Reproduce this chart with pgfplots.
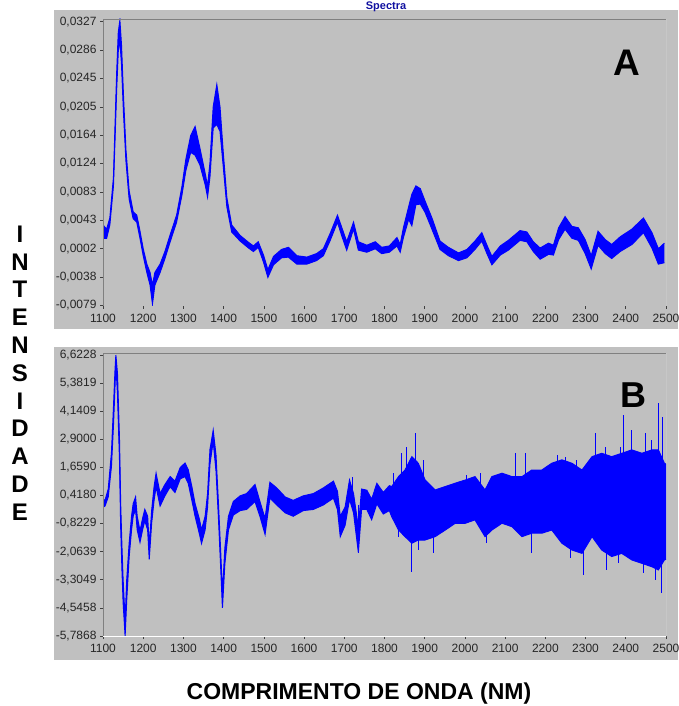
\documentclass[border=0pt]{standalone}
\usepackage{pgfplots}
\pgfplotsset{compat=1.18}
\usepackage{pgfplotstable}
\usepackage{fontspec}
\setmainfont{Liberation Sans}
\definecolor{panelgray}{HTML}{C0C0C0}
\definecolor{specblue}{HTML}{0000FF}
\definecolor{titleblue}{HTML}{1010A0}

\pgfplotstableread{
x lo hi
1100 0.0017 0.0036
1109 0.0017 0.0030
1117 0.0036 0.0046
1126 0.0092 0.0104
1130 0.0160 0.0180
1134 0.0230 0.0254
1138 0.0285 0.0312
1142 0.0300 0.0329
1146 0.0266 0.0294
1151 0.0196 0.0220
1157 0.0128 0.0144
1165 0.0073 0.0085
1175 0.0045 0.0055
1184 0.0040 0.0050
1192 0.0017 0.0027
1200 -0.0008 0.0002
1209 -0.0032 -0.0020
1217 -0.0050 -0.0032
1223 -0.0077 -0.0050
1229 -0.0050 -0.0032
1242 -0.0032 -0.0020
1254 -0.0012 -0.0002
1267 0.0012 0.0022
1283 0.0040 0.0050
1296 0.0078 0.0090
1306 0.0114 0.0130
1318 0.0140 0.0164
1329 0.0136 0.0177
1341 0.0122 0.0146
1354 0.0094 0.0110
1360 0.0076 0.0092
1366 0.0105 0.0125
1374 0.0175 0.0205
1383 0.0180 0.0237
1391 0.0170 0.0205
1399 0.0120 0.0140
1408 0.0062 0.0075
1420 0.0026 0.0036
1441 0.0013 0.0021
1462 0.0003 0.0011
1474 -0.0002 0.0006
1486 0.0004 0.0012
1499 -0.0017 -0.0007
1510 -0.0039 -0.0028
1524 -0.0021 -0.0009
1544 -0.0011 0.0001
1561 -0.0010 0.0004
1582 -0.0020 -0.0008
1607 -0.0020 -0.0010
1631 -0.0015 -0.0005
1648 -0.0008 0.0002
1665 0.0014 0.0024
1683 0.0040 0.0050
1694 0.0020 0.0032
1706 0.0000 0.0012
1723 0.0030 0.0040
1735 0.0000 0.0012
1756 -0.0003 0.0007
1777 0.0002 0.0012
1793 -0.0005 0.0004
1812 -0.0003 0.0006
1831 0.0006 0.0018
1839 -0.0003 0.0008
1847 0.0018 0.0032
1860 0.0044 0.0062
1868 0.0035 0.0080
1878 0.0065 0.0092
1889 0.0066 0.0088
1901 0.0054 0.0070
1918 0.0030 0.0046
1938 0.0001 0.0013
1959 -0.0008 0.0004
1984 -0.0015 -0.0004
2005 -0.0011 0.0001
2025 0.0001 0.0013
2042 0.0013 0.0025
2054 -0.0004 0.0008
2067 -0.0021 -0.0009
2088 -0.0007 0.0006
2108 0.0000 0.0014
2137 0.0014 0.0028
2154 0.0012 0.0026
2170 -0.0002 0.0012
2187 -0.0013 0.0003
2208 -0.0006 0.0010
2220 -0.0007 0.0007
2233 0.0015 0.0032
2249 0.0030 0.0048
2266 0.0017 0.0034
2282 0.0014 0.0032
2299 -0.0005 0.0015
2314 -0.0027 -0.0008
2331 0.0007 0.0027
2349 -0.0005 0.0015
2365 -0.0012 0.0008
2386 -0.0002 0.0019
2415 0.0008 0.0030
2444 0.0025 0.0046
2465 0.0003 0.0025
2481 -0.0020 0.0002
2496 -0.0018 0.0010
}\dataA

\pgfplotstableread{
x lo hi
1100 -0.10 0.25
1105 -0.05 0.20
1113 0.35 0.70
1121 1.70 2.30
1126 3.50 4.30
1130 5.30 6.00
1132 6.20 6.62
1136 4.90 5.80
1141 2.00 2.90
1144 -1.00 0.00
1147 -2.80 -1.80
1150 -4.30 -3.30
1155 -5.79 -5.10
1159 -4.20 -3.30
1165 -2.30 -1.70
1171 -1.10 -0.50
1175 -0.50 0.05
1181 -0.20 0.35
1185 -1.10 -0.50
1192 -1.65 -1.15
1199 -1.05 -0.55
1204 -0.70 -0.20
1211 -1.10 -0.50
1215 -2.40 -1.80
1221 -0.80 -0.25
1227 0.20 0.80
1232 0.80 1.40
1242 -0.05 0.50
1254 0.40 0.90
1267 0.80 1.25
1279 0.55 1.05
1292 1.15 1.65
1304 1.25 1.85
1312 0.95 1.55
1321 0.20 0.80
1329 -0.50 0.05
1340 -1.30 -0.65
1345 -1.70 -1.10
1354 -1.10 -0.50
1360 -0.10 0.50
1366 1.80 2.45
1374 2.80 3.30
1381 1.50 2.20
1387 -0.55 0.10
1393 -2.90 -2.20
1397 -4.55 -3.90
1403 -2.60 -1.90
1412 -1.10 -0.50
1424 -0.45 0.15
1441 -0.25 0.40
1457 -0.20 0.50
1478 0.15 0.90
1491 -0.55 0.10
1503 -1.30 -0.60
1515 0.30 1.00
1532 0.00 0.75
1553 -0.35 0.35
1573 -0.50 0.20
1598 -0.25 0.40
1623 -0.20 0.50
1648 0.00 0.75
1673 0.30 1.05
1683 -0.20 0.60
1690 -1.40 -0.50
1702 -0.90 -0.10
1713 0.25 1.10
1723 -0.35 0.50
1735 -2.10 -1.00
1743 -0.20 0.70
1756 -0.20 0.65
1768 -0.65 0.25
1781 0.05 0.95
1797 -0.40 0.55
1812 -0.25 0.85
1818 -0.52 0.81
1835 -1.11 1.25
1851 -1.40 1.54
1868 -1.69 2.13
1884 -1.55 1.84
1901 -1.55 1.10
1926 -1.40 0.66
1951 -1.11 0.81
1976 -0.81 0.96
2001 -0.81 1.10
2025 -0.66 1.25
2050 -1.40 0.66
2067 -1.11 1.25
2092 -0.81 1.40
2117 -0.96 1.25
2142 -1.40 1.25
2166 -1.25 1.54
2191 -1.25 1.54
2216 -1.11 1.84
2241 -1.69 1.99
2266 -1.99 1.84
2291 -2.14 1.54
2316 -1.40 2.13
2340 -1.99 2.28
2365 -2.28 2.13
2390 -2.14 2.28
2415 -2.43 2.43
2440 -2.58 2.28
2465 -2.73 2.43
2481 -2.87 2.43
2496 -2.43 1.84
2500 -2.40 1.80
}\dataB

\pgfplotsset{
  panel/.style={
    scale only axis, width=563pt,
    xmin=1100, xmax=2500,
    axis line style={draw=none},
    tick align=outside, xtick pos=left, ytick pos=left,
    major tick length=3pt,
    tick style={black!75, line width=0.6pt},
    ticklabel style={font=\fontsize{12}{14}\selectfont, text=black!85},
    xticklabel style={yshift=-2pt},
    scaled y ticks=false, scaled x ticks=false,
    xtick={1100,1200,...,2500},
    xticklabels={1100,1200,1300,1400,1500,1600,1700,1800,1900,2000,2100,2200,2300,2400,2500},
    clip=true,
  }
}

\begin{document}
\begin{tikzpicture}[x=1pt,y=1pt]
\fill[panelgray] (54,377) rectangle (678,696);
\fill[panelgray] (54,46) rectangle (678,359);
\node[anchor=base, text=titleblue, font=\bfseries\fontsize{11}{11}\selectfont, inner sep=0pt] at (386,696.5) {Spectra};

% Panel A
\begin{axis}[panel, at={(103pt,400pt)}, anchor=south west, height=287pt,
  ymin=-0.0080, ymax=0.0331,
  ytick={-0.0079,-0.00384,0.00022,0.00428,0.00834,0.0124,0.01646,0.02052,0.02458,0.02864,0.0327},
  yticklabels={{-0,0079},{-0,0038},{0,0002},{0,0043},{0,0083},{0,0124},{0,0164},{0,0205},{0,0245},{0,0286},{0,0327}}]
\addplot[stack plots=y, draw=none, forget plot] table[x=x, y=lo] {\dataA};
\addplot[stack plots=y, fill=specblue, draw=none, forget plot] table[x=x, y expr=\thisrow{hi}-\thisrow{lo}] {\dataA} \closedcycle;
\addplot[stack plots=false, color=specblue, line width=1pt] table[x=x, y=hi] {\dataA};
\addplot[stack plots=false, color=specblue, line width=1pt] table[x=x, y=lo] {\dataA};
\draw[gray, line width=0.8pt] (rel axis cs:0,0) -- (rel axis cs:0,1) -- (rel axis cs:1,1);
\draw[white, line width=0.8pt] (rel axis cs:0,0) -- (rel axis cs:1,0) -- (rel axis cs:1,1);
\end{axis}

% Panel B
\begin{axis}[panel, at={(103pt,70pt)}, anchor=south west, height=283pt,
  ymin=-5.79, ymax=6.71,
  ytick={-5.7868,-4.5458,-3.3049,-2.0639,-0.8229,0.4180,1.6590,2.9000,4.1409,5.3819,6.6228},
  yticklabels={{-5,7868},{-4,5458},{-3,3049},{-2,0639},{-0,8229},{0,4180},{1,6590},{2,9000},{4,1409},{5,3819},{6,6228}}]
\addplot[stack plots=y, draw=none, forget plot] table[x=x, y=lo] {\dataB};
\addplot[stack plots=y, fill=specblue, draw=none, forget plot] table[x=x, y expr=\thisrow{hi}-\thisrow{lo}] {\dataB} \closedcycle;
\addplot[stack plots=false, color=specblue, line width=1pt] table[x=x, y=hi] {\dataB};
\addplot[stack plots=false, color=specblue, line width=1pt] table[x=x, y=lo] {\dataB};
\addplot[stack plots=false, color=specblue, line width=1pt, unbounded coords=jump] coordinates {
(1822,0) (1822,1.39) (1822,nan)
(1843,0) (1843,2.28) (1843,nan)
(1855,0) (1855,2.57) (1855,nan)
(1878,0) (1878,3.16) (1878,nan)
(1897,0) (1897,1.99) (1897,nan)
(2005,0) (2005,1.32) (2005,nan)
(2038,0) (2038,1.40) (2038,nan)
(2125,0) (2125,2.28) (2125,nan)
(2150,0) (2150,2.28) (2150,nan)
(2229,0) (2229,2.21) (2229,nan)
(2249,0) (2249,2.13) (2249,nan)
(2278,0) (2278,1.99) (2278,nan)
(2324,0) (2324,3.16) (2324,nan)
(2349,0) (2349,2.57) (2349,nan)
(2386,0) (2386,2.57) (2386,nan)
(2394,0) (2394,3.97) (2394,nan)
(2413,0) (2413,3.31) (2413,nan)
(2448,0) (2448,3.16) (2448,nan)
(2465,0) (2465,2.87) (2465,nan)
(2481,0) (2481,4.49) (2481,nan)
(2491,0) (2491,3.90) (2491,nan)
(1836,0) (1836,-1.40) (1836,nan)
(1868,0) (1868,-2.95) (1868,nan)
(1884,0) (1884,-1.99) (1884,nan)
(1922,0) (1922,-2.14) (1922,nan)
(2054,0) (2054,-1.69) (2054,nan)
(2166,0) (2166,-2.14) (2166,nan)
(2262,0) (2262,-2.36) (2262,nan)
(2295,0) (2295,-3.09) (2295,nan)
(2353,0) (2353,-2.87) (2353,nan)
(2382,0) (2382,-2.58) (2382,nan)
(2444,0) (2444,-3.02) (2444,nan)
(2473,0) (2473,-3.31) (2473,nan)
(2488,0) (2488,-3.90) (2488,nan)
(1720,0) (1720,1.25) (1720,nan)
(1735,0) (1735,-2.14) (1735,nan)
};
\draw[gray, line width=0.8pt] (rel axis cs:0,0) -- (rel axis cs:0,1) -- (rel axis cs:1,1);
\draw[white, line width=0.8pt] (rel axis cs:0,0) -- (rel axis cs:1,0) -- (rel axis cs:1,1);
\end{axis}

% Labels
\node[font=\bfseries\fontsize{37}{37}\selectfont, inner sep=0pt] at (627,643) {A};
\node[font=\bfseries\fontsize{36}{36}\selectfont, inner sep=0pt] at (633,311) {B};
\foreach \l [count=\i from 0] in {I,N,T,E,N,S,I,D,A,D,E} {
  \node[font=\bfseries\fontsize{24}{24}\selectfont, inner sep=0pt] at (20,{472-27.8*\i}) {\l};
}
\node[anchor=base, font=\bfseries\fontsize{23}{24}\selectfont, inner sep=0pt] at (359,6.5) {COMPRIMENTO DE ONDA (NM)};
\pgfresetboundingbox
\useasboundingbox (0,0) rectangle (678,706);
\end{tikzpicture}
\end{document}
